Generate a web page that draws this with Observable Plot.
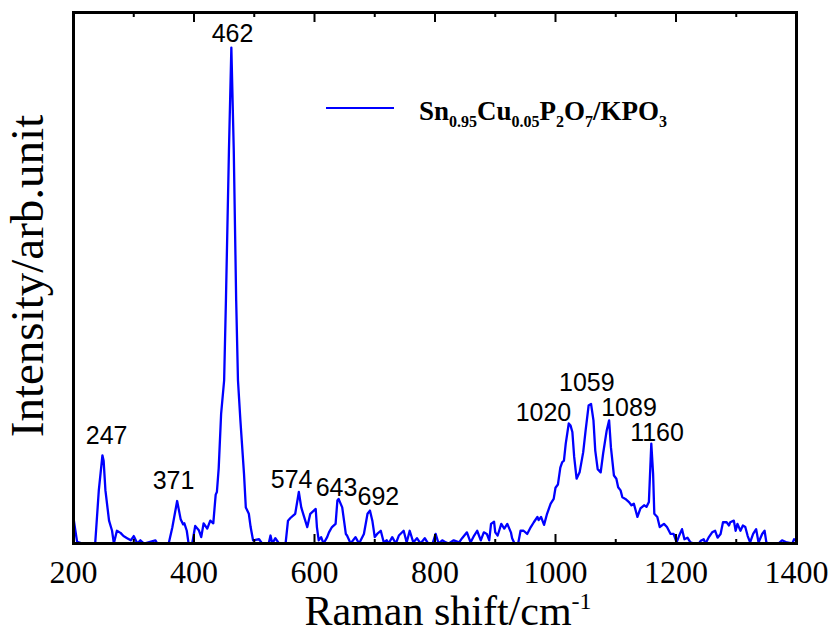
<!DOCTYPE html>
<html>
<head>
<meta charset="utf-8">
<script src="https://cdn.jsdelivr.net/npm/d3@7"></script>
<script src="https://cdn.jsdelivr.net/npm/@observablehq/plot@0.6"></script>
<style>
  html, body { margin: 0; padding: 0; background: #fff; }
  #chart { position: relative; width: 829px; height: 634px; }
  #chart svg g[aria-label="x-axis tick label"], #chart svg g[aria-label="x-axis tick label"] text {
    font-family: "Liberation Serif", "Times New Roman", serif !important;
  }
</style>
</head>
<body>
<div id="chart"></div>
<script>
// Raman spectrum [shift (cm-1), intensity (arb.)]
const spectrum = [
[200,4.8],[203,2.5],[206,0.3],[215,0],[225,0],[236,0],[242,10],[248,16.6],[250,15.6],[253,10],
[259,4.3],[264,2.4],[267,0],[272,2.4],[278,2.0],[283,1.4],[289,1.0],[295,0.6],[300,1.4],[306,0],
[311,0.6],[317,0],[336,0.6],[339,0],[358,0],[364,3.0],[372,8.0],[378,4.5],[382,3.6],[384,3.8],
[388,2.4],[391,0],[397,0],[402,3.3],[408,2.5],[412,1.2],[416,3.8],[422,2.8],[427,4.3],[432,3.8],
[436,9.2],[438,9.7],[441,14.2],[445,24.4],[450,30.7],[453,45.8],[458,74],[462,93.4],[466,74],[470,45.8],
[473,30.7],[477,23.2],[483,13.1],[486,6.8],[491,5.6],[494,3.1],[498,0.6],[508,0.8],[513,0],[524,0],
[527,1.5],[530,0],[535,1.0],[541,0],[552,0],[556,4.3],[560,4.8],[565,5.3],[568,5.6],[574,9.7],
[578,6.8],[582,5.3],[588,3.1],[593,5.6],[602,6.5],[604,3.1],[607,0.6],[611,1.2],[615,0],[621,1.2],
[624,2.1],[629,3.1],[635,3.7],[638,8.1],[640,8.4],[646,6.8],[649,4.3],[652,1.8],[654,1.5],[660,0],
[668,1.2],[674,0],[682,1.8],[688,5.6],[692,6.2],[696,4.3],[700,1.2],[704,1.8],[710,2.4],[715,0.2],
[720,0.6],[723,0],[729,1.2],[735,0],[740,1.5],[748,2.4],[753,0.2],[758,2.4],[764,0.2],[770,1.0],
[776,0],[783,1.0],[788,0.1],[796,0],[801,1.8],[806,0],[812,0.6],[818,0.2],[823,0],[831,0.6],
[840,0.2],[845,1.0],[853,2.1],[859,0.2],[865,1.5],[870,2.4],[876,0.6],[881,2.1],[886,1.8],[890,0.6],
[893,3.7],[898,4.1],[900,2.1],[904,1.5],[910,3.7],[915,2.8],[920,3.7],[926,2.1],[928,1.0],[932,0],
[938,0],[942,2.4],[947,2.4],[953,1.8],[959,3.1],[964,4.0],[970,5.0],[972,4.4],[976,5.0],[981,3.5],
[986,5.6],[992,7.5],[997,8.4],[1000,10.5],[1004,11.1],[1008,14.3],[1011,15.3],[1014,15.6],[1017,18.8],[1022,22.6],
[1025,22.2],[1028,21.0],[1031,16.3],[1035,12.2],[1040,13.4],[1046,17.2],[1050,21.3],[1055,26.0],[1059,26.3],[1063,23.2],
[1066,17.5],[1070,14.0],[1075,13.4],[1079,16.9],[1085,21.3],[1089,23.2],[1092,18.1],[1097,12.8],[1101,12.2],[1104,10.6],
[1108,10.0],[1111,8.7],[1116,8.4],[1122,7.8],[1126,7.2],[1130,7.5],[1136,5.0],[1141,6.6],[1147,7.2],[1151,6.9],
[1155,7.8],[1159,18.8],[1162,13.1],[1164,5.6],[1169,5.0],[1173,3.1],[1180,3.7],[1185,3.1],[1191,1.8],[1196,1.8],
[1201,0.2],[1205,1.4],[1210,2.7],[1214,0.8],[1219,1.1],[1224,0.2],[1230,0],[1238,0],[1241,0.5],[1246,0.8],
[1249,0],[1254,1.1],[1260,2.1],[1265,2.4],[1269,1.1],[1274,1.8],[1278,4.0],[1284,4.0],[1288,3.4],[1290,4.0],
[1296,4.3],[1299,2.4],[1302,3.7],[1307,2.4],[1311,3.4],[1315,3.1],[1319,1.4],[1323,0.2],[1328,1.8],[1333,2.7],
[1337,0.2],[1343,1.8],[1347,2.4],[1350,0.2],[1354,0],[1370,0],[1376,0.6],[1384,0.2],[1393,0],[1396,0.8],
[1400,0.5]
];

// Peak annotations
const peakNames = ["247", "371", "462", "574", "643", "692", "1020", "1059", "1089", "1160"];
const peakLabelX = [255, 366, 464, 562, 636.5, 706, 980, 1052, 1122, 1168.5];
const peakLabelY = [20.3, 11.7, 95.9, 12.0, 10.5, 8.7, 24.6, 30.2, 25.5, 20.8];

// Axis ticks
const majorTicks = [200, 400, 600, 800, 1000, 1200, 1400];
const minorTicks = [300, 500, 700, 900, 1100, 1300];

const data = spectrum.map(([shift, intensity]) => ({shift, intensity}));
const labels = peakNames.map((t, i) => ({text: t, x: peakLabelX[i], y: peakLabelY[i]}));
const noText = () => "";
const serif = "Liberation Serif";

const chart = Plot.plot({
  width: 829,
  height: 634,
  marginLeft: 73,
  marginRight: 33,
  marginTop: 12,
  marginBottom: 91,
  style: {background: "white", fontFamily: serif, color: "black"},
  x: {domain: [200, 1400]},
  y: {domain: [0, 100], axis: null},
  marks: [
    Plot.line(data, {x: "shift", y: "intensity", stroke: "#0000ff", strokeWidth: 2.3, clip: true}),
    Plot.text(labels, {x: "x", y: "y", text: "text", fontSize: 25, fontFamily: "Liberation Sans", fill: "black", lineAnchor: "middle", textAnchor: "middle"}),
    Plot.axisX({ticks: majorTicks, tickSize: 0, tickPadding: 17, fontSize: 32, fontFamily: serif, tickFormat: d => String(d), label: null}),
    Plot.axisX({ticks: majorTicks, tickSize: -9, strokeWidth: 2, tickFormat: noText, label: null}),
    Plot.axisX({ticks: minorTicks, tickSize: -4, strokeWidth: 2, tickFormat: noText, label: null}),
    Plot.axisX({anchor: "top", ticks: majorTicks, tickSize: -9, strokeWidth: 2, tickFormat: noText, label: null}),
    Plot.axisX({anchor: "top", ticks: minorTicks, tickSize: -4, strokeWidth: 2, tickFormat: noText, label: null}),
    Plot.frame({stroke: "black", strokeWidth: 3})
  ]
});

document.getElementById("chart").appendChild(chart);

const svg = d3.select(chart);
svg.selectAll('g[aria-label="x-axis tick label"]').attr("font-family", serif);

// x axis title with superscript
const xt = svg.append("text")
  .attr("x", 448).attr("y", 625)
  .attr("text-anchor", "middle")
  .attr("font-family", serif).attr("font-size", 42).attr("fill", "black");
xt.append("tspan").text("Raman shift/cm");
xt.append("tspan").attr("font-size", 24).attr("dy", -16).text("-1");

// y axis title
svg.append("text")
  .attr("transform", "translate(43,276) rotate(-90)")
  .attr("text-anchor", "middle")
  .attr("font-family", serif).attr("font-size", 47).attr("fill", "black")
  .text("Intensity/arb.unit");

// legend
const lg = svg.append("g");
lg.append("line").attr("x1", 326).attr("x2", 394).attr("y1", 108).attr("y2", 108)
  .attr("stroke", "#0000ff").attr("stroke-width", 2);
const lt = lg.append("text").attr("x", 419).attr("y", 120)
  .attr("text-anchor", "start")
  .attr("font-family", serif).attr("font-weight", "bold").attr("font-size", 27).attr("fill", "black");
const parts = [["Sn", false], ["0.95", true], ["Cu", false], ["0.05", true], ["P", false], ["2", true], ["O", false], ["7", true], ["/KPO", false], ["3", true]];
let sub = false;
for (const [t, isSub] of parts) {
  const ts = lt.append("tspan").text(t).attr("font-size", isSub ? 16 : 27);
  if (isSub !== sub) ts.attr("dy", isSub ? 7 : -7);
  sub = isSub;
}
</script>
</body>
</html>
